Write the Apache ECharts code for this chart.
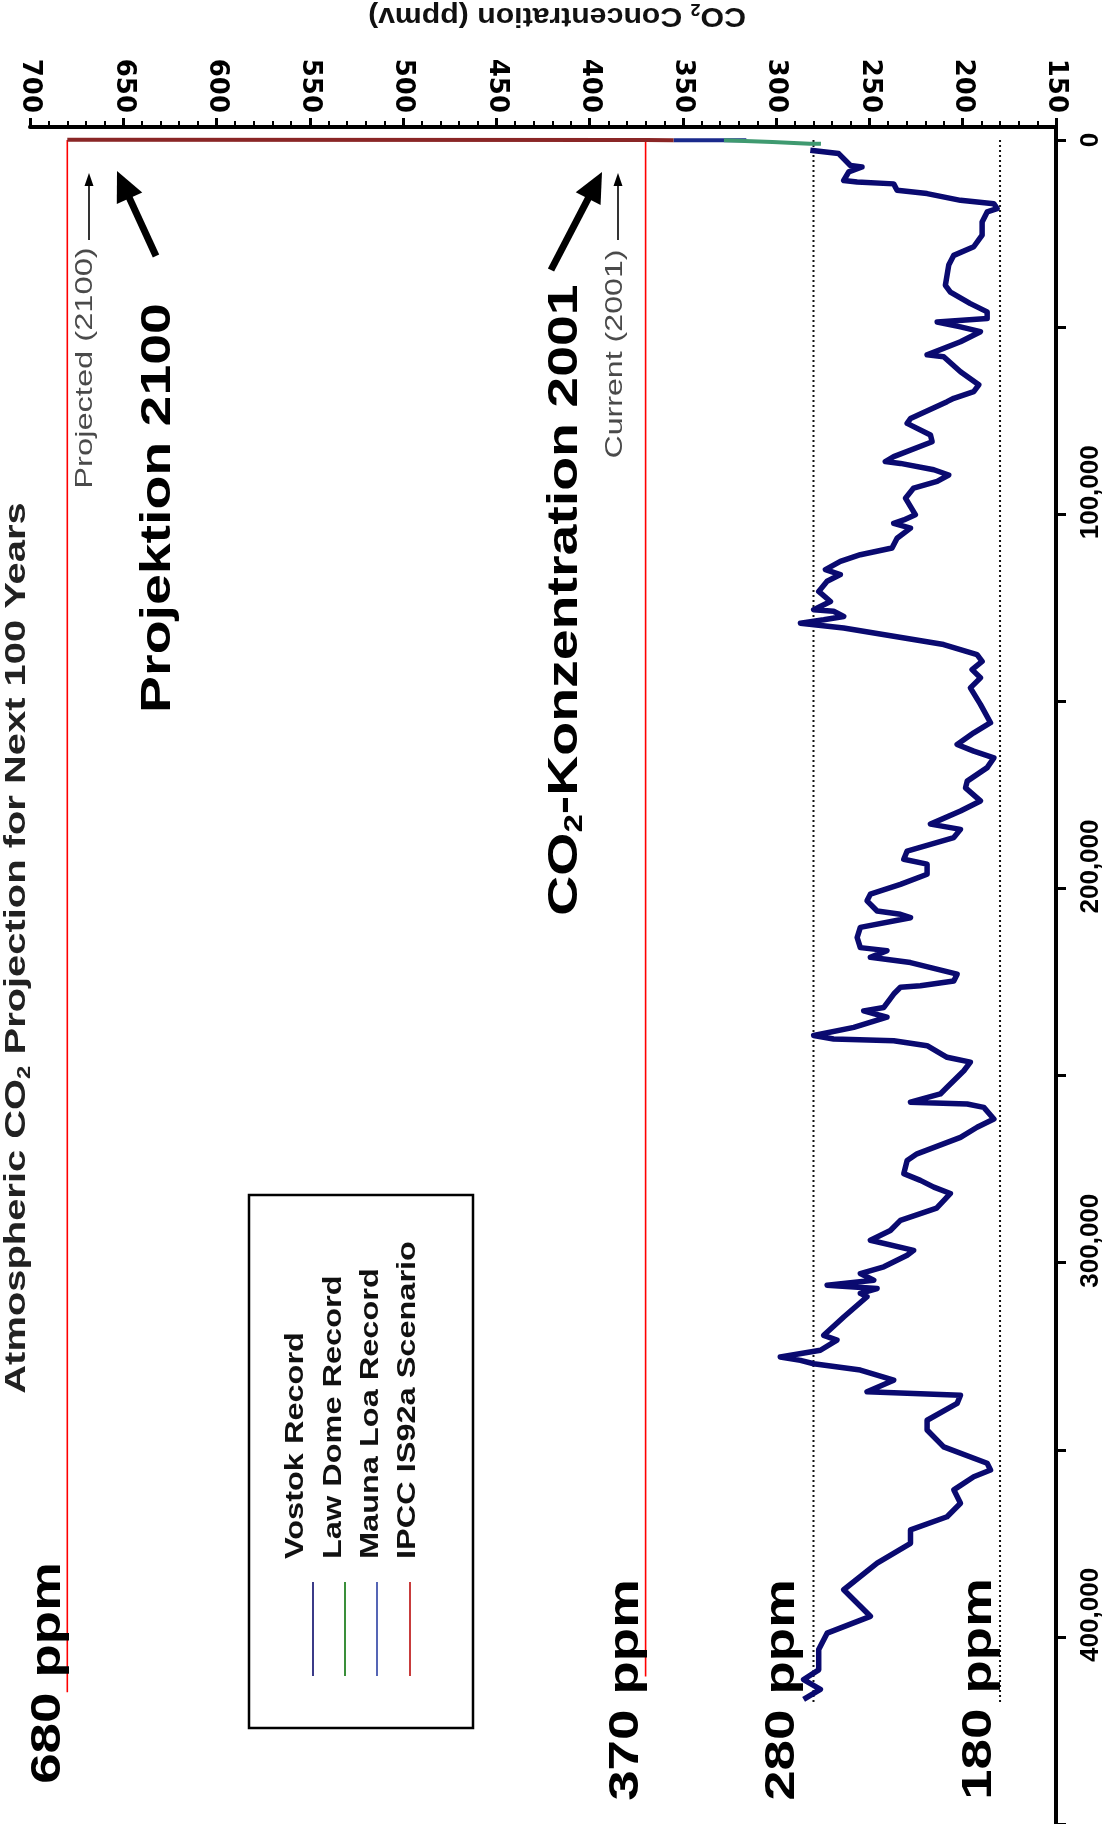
<!DOCTYPE html>
<html lang="en">
<head>
<meta charset="utf-8">
<title>Atmospheric CO2 Projection for Next 100 Years</title>
<script src="https://cdn.jsdelivr.net/npm/echarts@6/dist/echarts.min.js"></script>
<style>
  html, body { margin: 0; padding: 0; background: #fff; }
  #chart { width: 1112px; height: 1824px; }
</style>
</head>
<body>
<div id="chart"></div>
<script>
// ---- axes -------------------------------------------------------------
const CO2_MIN = 150, CO2_MAX = 700, CO2_STEP = 50;            // ppmv
const AGE_MIN = -3500, AGE_MAX = 450000;                      // years before present
const AGE_TICKS = [0, 50000, 100000, 150000, 200000, 250000, 300000, 350000, 400000, 450000];
const AGE_LABELS = [0, 100000, 200000, 300000, 400000];

// ---- Vostok ice core record (years BP, ppmv) ---------------------------
const VOSTOK_AGE = [
  2700, 3600, 6800, 7200, 8500, 10800, 11200, 11700, 13400, 14300,
  16100, 17000, 18300, 19200, 21900, 25400, 28500, 30800, 33400, 38800,
  40600, 43700, 45900, 47700, 48600, 49900, 51200, 53900, 57400, 57900,
  61900, 65400, 67200, 69000, 69900, 74400, 75700, 78800, 80600, 84600,
  85900, 86400, 88100, 89500, 91200, 93000, 95700, 100100, 101500, 102400,
  103700, 106400, 109000, 110800, 112600, 114800, 116100, 117900, 120600, 123300,
  125500, 125900, 127300, 128200, 129100, 130400, 132600, 134800, 137500, 139300,
  141500, 143700, 146400, 150800, 155700, 158400, 161500, 163300, 165100, 167700,
  171300, 173100, 176600, 179300, 182800, 184200, 186400, 190000, 192200, 193500,
  196200, 198900, 201500, 203300, 206000, 206900, 207800, 210400, 213100, 215800,
  216600, 218400, 219800, 222900, 224700, 226000, 226400, 228200, 231800, 232700,
  234400, 237100, 239300, 240200, 240700, 242000, 245100, 246400, 248700, 253100,
  254900, 257100, 257600, 258500, 261600, 263800, 266500, 270900, 272700, 276200,
  278000, 279800, 281500, 283400, 285400, 288700, 291400, 294000, 296700, 298000,
  301100, 302900, 304700, 306000, 306900, 308200, 309100, 314500, 319400, 320700,
  323400, 325200, 326100, 327000, 328700, 331400, 334500, 335400, 337600, 342100,
  344700, 349200, 353600, 355400, 357200, 360700, 364300, 367900, 371400, 375000,
  380300, 387400, 394500, 399000, 403400, 408800, 411400, 414000, 416700
];
const VOSTOK_CO2 = [
  281.7, 266.5, 260.2, 254, 261.1, 263.8, 256.6, 237, 235.2, 219.1,
  201.2, 183.3, 181.6, 186.9, 189.6, 189.6, 194.1, 204.8, 207.5, 209.3,
  206.6, 195.9, 186.9, 186.9, 213.7, 201.2, 190.5, 201.2, 219.1, 210.2,
  201.2, 191.4, 194.1, 204.8, 208.4, 228, 229.8, 217.3, 216.4, 237,
  241.5, 233.4, 215.5, 207.5, 213.7, 226.3, 230.7, 225.4, 231.6, 237,
  228, 235.2, 237.9, 254.9, 265.6, 273.6, 265.6, 272.7, 277.2, 270.9,
  279.9, 269.2, 263.8, 274.5, 287, 263.8, 237, 210.2, 192.3, 189.6,
  195, 190.5, 195.9, 190.5, 185.1, 194.1, 203, 194.1, 183.3, 186.9,
  197.6, 198.5, 190.5, 201.2, 217.3, 201.2, 204.8, 229.8, 231.6, 219.1,
  219.1, 233.4, 249.5, 251.3, 245.9, 233.4, 228, 254.9, 256.6, 254.9,
  240.6, 249.5, 228, 203, 204.8, 222.7, 233.4, 237, 242.3, 253.1,
  240.6, 258.4, 279.9, 269.2, 237, 219.1, 208.4, 195.9, 199.4, 208.4,
  212, 228, 197.6, 188.7, 183.3, 192.3, 201.2, 224.5, 229.8, 231.6,
  222.7, 215.5, 206.6, 210.2, 214, 233.4, 238.8, 249.5, 226.3, 229.8,
  242.3, 254.9, 247.7, 272.7, 245.9, 254.9, 251.3, 263.8, 274.5, 267.4,
  276.3, 297.8, 287, 279.9, 254.9, 237, 251.3, 201.2, 203, 219.1,
  219.1, 210.2, 186.9, 185.1, 194.1, 204.8, 201.2, 208.4, 228, 228,
  245.9, 263.8, 249.5, 272.7, 277.2, 277.2, 285.3, 276.3, 285.3
];

// ---- recent records and projection ------------------------------------
const LAW_DOME_AGE = [1000, 950, 500, 20];
const LAW_DOME_CO2 = [276, 282, 302, 328];
const MAUNA_LOA_AGE = [43, 23, 11];
const MAUNA_LOA_CO2 = [316, 336, 355];
const IPCC_AGE = [11, 0, -99];
const IPCC_CO2 = [355, 370, 680];

// ---- reference levels --------------------------------------------------
const REF_LEVELS = [280, 180];            // dotted guide lines
const REF_AGE = [0, 418000];
const MARK_LEVELS = [680, 370];          // red guide lines
const MARK_END_AGE = [414800, 410600];
const LEVEL_LABELS = ['680 ppm', '370 ppm', '280 ppm', '180 ppm'];

const LEGEND_NAMES = ['Vostok Record', 'Law Dome Record', 'Mauna Loa Record', 'IPCC IS92a Scenario'];
const LEGEND_COLORS = ['#3b3b88', '#3a8f3a', '#5565b5', '#c83c3c'];

// ------------------------------------------------------------------------
const SANS = '"Liberation Sans", Arial, Helvetica, sans-serif';
const NARROW = '"Liberation Sans Narrow", "Liberation Sans", Arial, sans-serif';
const pairs = (co2, age) => co2.map((c, i) => [c, age[i]]);
const fmtAge = v => String(v).replace(/\B(?=(\d{3})+(?!\d))/g, ',');

function lineSeries(name, data, color, width, dash, z) {
  return {
    name, type: 'line', data, symbol: 'none', silent: true, z,
    lineStyle: { color, width, type: dash || 'solid', join: 'round' }
  };
}

// text drawn along the vertical direction (reads bottom to top)
function vText(text, x, y, o) {
  const st = {
    text, fill: o.fill || '#000', textFill: o.fill || '#000',
    fontSize: o.size, fontFamily: o.family || SANS, fontWeight: o.weight || 'normal',
    align: o.align || 'center', textAlign: o.align || 'center',
    verticalAlign: 'middle', textVerticalAlign: 'middle'
  };
  if (o.rich) st.rich = o.rich;
  return { type: 'text', x, y, rotation: o.rot == null ? Math.PI / 2 : o.rot,
           scaleX: o.sx || 1, z: 100, style: st };
}

function arrow(x1, y1, x2, y2, width, headLen, headHalf) {
  const dx = x2 - x1, dy = y2 - y1, len = Math.hypot(dx, dy);
  const ux = dx / len, uy = dy / len, px = -uy, py = ux;
  const bx = x2 - ux * headLen, by = y2 - uy * headLen;
  return [
    { type: 'line', z: 100, shape: { x1, y1, x2: bx + ux, y2: by + uy },
      style: { stroke: '#000', lineWidth: width } },
    { type: 'polygon', z: 100,
      shape: { points: [[x2, y2], [bx + px * headHalf, by + py * headHalf], [bx - px * headHalf, by - py * headHalf]] },
      style: { fill: '#000' } }
  ];
}

function richSub(size, weight, fill, lh) {
  return {
    a: { fontSize: size, fontWeight: weight, fontFamily: SANS, fill, textFill: fill, lineHeight: lh },
    s: { fontSize: Math.round(size * 0.6), fontWeight: weight, fontFamily: SANS, fill, textFill: fill,
         lineHeight: Math.round(size * 0.5), verticalAlign: 'bottom' }
  };
}

const series = [];
REF_LEVELS.forEach(l => series.push(
  lineSeries('ref ' + l, [[l, REF_AGE[0]], [l, REF_AGE[1]]], '#111', 2, [2, 3], 1)));
MARK_LEVELS.forEach((l, i) => series.push(
  lineSeries('mark ' + l, [[l, 0], [l, MARK_END_AGE[i]]], '#ff0000', 1.6, 'solid', 2)));
series.push(lineSeries('Vostok Record', pairs(VOSTOK_CO2, VOSTOK_AGE), '#0a0a70', 5.5, 'solid', 4));
series.push(lineSeries('Mauna Loa Record', pairs(MAUNA_LOA_CO2, MAUNA_LOA_AGE), '#1a2a8c', 4, 'solid', 5));
series.push(lineSeries('Law Dome Record', pairs(LAW_DOME_CO2, LAW_DOME_AGE), '#3f9a70', 4, 'solid', 6));
series.push(lineSeries('IPCC IS92a Scenario', pairs(IPCC_CO2, IPCC_AGE), '#8a2626', 4, 'solid', 7));

const graphics = [];
// title and axis name
graphics.push(vText('{a|Atmospheric CO}{s|2}{a| Projection for Next 100 Years}', 17, 948,
  { size: 30, weight: 'bold', sx: 1.33, rich: richSub(30, 'bold', '#222', 34) }));
graphics.push(vText('{a|CO}{s|2}{a| Concentration (ppmv)}', 557, 15,
  { size: 27, weight: 'bold', sx: 1.12, rot: Math.PI, rich: richSub(27, 'bold', '#111', 30) }));

// projection / current markers
graphics.push(vText('Projected (2100)', 85, 368, { size: 24, fill: '#4a4a4a', sx: 1.36 }));
graphics.push(...arrow(89, 240, 89, 173, 1.6, 13, 4.5));
graphics.push(vText('Current (2001)', 615, 354, { size: 24, fill: '#4a4a4a', sx: 1.34 }));
graphics.push(...arrow(618, 240, 618, 173, 1.6, 13, 4.5));

// legend
graphics.push({ type: 'rect', z: 90, shape: { x: 249, y: 1195, width: 224, height: 533 },
  style: { fill: '#fff', stroke: '#000', lineWidth: 2.5 } });
const LEGEND_TEXT_X = [296, 334, 371, 408];
const LEGEND_LINE_X = [313, 345, 377, 410];
LEGEND_NAMES.forEach((n, i) => {
  graphics.push(vText(n, LEGEND_TEXT_X[i], 1559, { size: 25, weight: 'bold', align: 'left', sx: 1.3, fill: '#111' }));
  graphics.push({ type: 'line', z: 100, shape: { x1: LEGEND_LINE_X[i], y1: 1582, x2: LEGEND_LINE_X[i], y2: 1676 },
    style: { stroke: LEGEND_COLORS[i], lineWidth: 2 } });
});

// level call-outs
const LEVEL_POS = [[48, 1673], [626, 1690], [782, 1690], [979, 1689]];
LEVEL_LABELS.forEach((t, i) => graphics.push(
  vText(t, LEVEL_POS[i][0], LEVEL_POS[i][1], { size: 42, weight: 'bold', sx: 1.3 })));
graphics.push(vText('Projektion 2100', 158, 508, { size: 42, weight: 'bold', sx: 1.32 }));
graphics.push(vText('{a|CO}{s|2}{a|-Konzentration 2001}', 565, 600,
  { size: 42, weight: 'bold', sx: 1.32, rich: richSub(42, 'bold', '#000', 46) }));
graphics.push(...arrow(156, 256, 117, 171, 7, 30, 14));
graphics.push(...arrow(551, 270, 602, 172, 7, 30, 14));

const option = {
  animation: false,
  backgroundColor: '#ffffff',
  grid: { left: 30, right: 56, top: 127, bottom: 0, containLabel: false },
  xAxis: {
    type: 'value', position: 'top', inverse: true,
    min: CO2_MIN, max: CO2_MAX, interval: CO2_STEP,
    axisLine: { show: true, onZero: false, lineStyle: { color: '#000', width: 4 } },
    axisTick: { show: true, length: 9, lineStyle: { color: '#000', width: 3 } },
    minorTick: { show: true, splitNumber: 5, length: 6, lineStyle: { color: '#000', width: 2 } },
    axisLabel: { rotate: 90, margin: 14, color: '#000', fontFamily: 'DejaVu Sans', fontWeight: 'bold', fontSize: 26 },
    splitLine: { show: false }, minorSplitLine: { show: false }
  },
  yAxis: {
    type: 'value', position: 'right', inverse: true,
    min: AGE_MIN, max: AGE_MAX,
    axisLine: { show: true, onZero: false, lineStyle: { color: '#000', width: 4 } },
    axisTick: { show: true, customValues: AGE_TICKS, length: 10, lineStyle: { color: '#000', width: 3 } },
    axisLabel: {
      customValues: AGE_LABELS, rotate: 90, margin: 22, color: '#000',
      fontFamily: NARROW, fontWeight: 'bold', fontSize: 26,
      formatter: v => (v === 0 ? '{z|0}' : '{p|' + fmtAge(v) + '}'),
      rich: {
        z: { fontFamily: NARROW, fontWeight: 'bold', fontSize: 26, color: '#000' },
        p: { fontFamily: NARROW, fontWeight: 'bold', fontSize: 26, color: '#000', padding: [0, 0, 0, 44] }
      }
    },
    splitLine: { show: false }
  },
  series,
  graphic: { elements: graphics }
};

const chart = echarts.init(document.getElementById('chart'), null, { renderer: 'canvas' });
chart.setOption(option);
</script>
</body>
</html>
